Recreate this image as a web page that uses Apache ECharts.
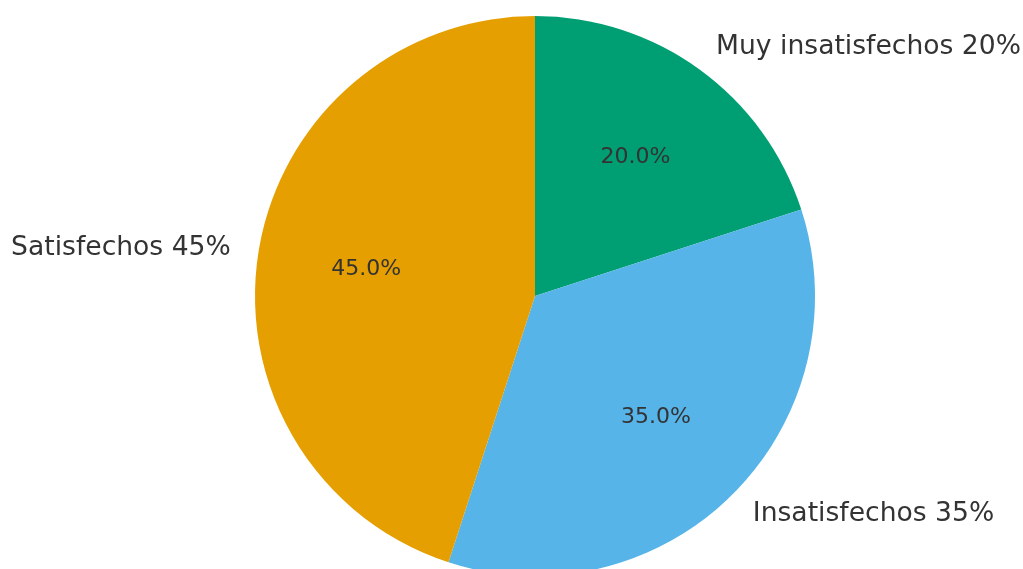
<!DOCTYPE html>
<html>
<head>
<meta charset="utf-8">
<script src="https://cdn.jsdelivr.net/npm/echarts@6/dist/echarts.min.js"></script>
<style>
  html, body { margin: 0; padding: 0; background: #fff; }
  #chart { width: 1023px; height: 569px; }
</style>
</head>
<body>
<div id="chart"></div>
<script>
// datos del gráfico
var categorias = ['Muy insatisfechos', 'Insatisfechos', 'Satisfechos'];
var valores = [20, 35, 45];
var colores = ['#009E73', '#56B4E9', '#E69F00'];

var R = 280;
var datos = categorias.map(function (c, i) {
  return { name: c, value: valores[i], itemStyle: { color: colores[i] } };
});

var chart = echarts.init(document.getElementById('chart'));
chart.setOption({
  animation: false,
  textStyle: { fontFamily: 'DejaVu Sans' },
  series: [
    {
      // porciones + etiquetas exteriores
      type: 'pie',
      center: [535, 296],
      radius: [0, R],
      startAngle: 90,
      clockwise: true,
      avoidLabelOverlap: false,
      silent: true,
      itemStyle: { borderWidth: 0 },
      label: {
        show: true,
        position: 'outside',
        distanceToLabelLine: 0,
        fontSize: 26.6,
        color: '#333333',
        fontFamily: 'DejaVu Sans',
        formatter: function (p) { return p.name + ' ' + p.value + '%'; }
      },
      labelLine: { show: false, length: R * 0.1, length2: 0 },
      data: datos
    },
    {
      // porcentajes dentro (a 0.6 del radio)
      type: 'pie',
      center: [535, 296],
      radius: [0, R * 1.2],
      startAngle: 90,
      clockwise: true,
      silent: true,
      itemStyle: { color: 'rgba(0,0,0,0)', borderWidth: 0 },
      label: {
        show: true,
        position: 'inside',
        fontSize: 22,
        color: '#333333',
        fontFamily: 'DejaVu Sans',
        formatter: function (p) { return p.value.toFixed(1) + '%'; }
      },
      labelLine: { show: false },
      data: categorias.map(function (c, i) { return { name: c, value: valores[i] }; })
    }
  ]
});
</script>
</body>
</html>
